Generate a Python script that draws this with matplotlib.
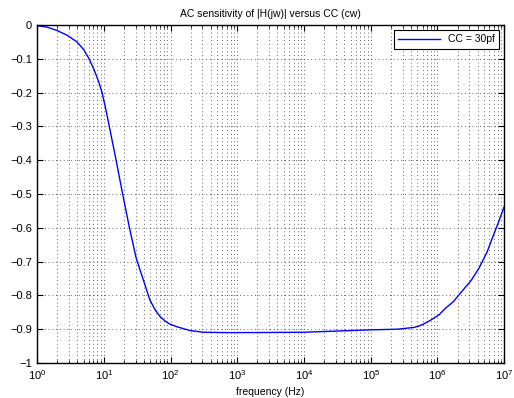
import numpy as np
import matplotlib
matplotlib.use("Agg")
import matplotlib.pyplot as plt

plt.rcParams['font.family'] = ['Liberation Sans', 'DejaVu Sans']

# curve: log10(frequency) and sensitivity
log_freq = [0.0, 0.15, 0.3, 0.45, 0.6, 0.7, 0.775, 0.85, 0.925, 0.975,
            1.025, 1.075, 1.18, 1.28, 1.385, 1.48, 1.54, 1.594, 1.69, 1.77,
            1.845, 1.92, 1.99, 2.1, 2.29, 2.49, 2.8, 3.24, 4.0, 5.0, 5.4,
            5.64, 5.72, 5.79, 5.9, 6.02, 6.12, 6.24, 6.34, 6.5, 6.62, 6.74,
            6.84, 6.93, 7.0]
sens = [-0.002, -0.006, -0.016, -0.03, -0.05, -0.073, -0.098, -0.13, -0.168,
        -0.2, -0.244, -0.292, -0.395, -0.497, -0.60, -0.685, -0.723, -0.755,
        -0.813, -0.843, -0.863, -0.876, -0.885, -0.893, -0.904, -0.909,
        -0.91, -0.91, -0.909, -0.902, -0.9, -0.895, -0.891, -0.885, -0.873,
        -0.858, -0.838, -0.818, -0.794, -0.757, -0.72, -0.673, -0.621,
        -0.575, -0.537]
freq = [10 ** v for v in log_freq]

fig = plt.figure(figsize=(5.14, 3.98), dpi=100)
ax = fig.add_axes([0.072, 0.088, 0.909, 0.849])
ax.semilogx(freq, sens, color='blue', lw=1.0, label='CC = 30pf')

ax.set_xlim(1, 1e7)
ax.set_ylim(-1, 0)
ax.set_yticks(np.arange(-1, 0.01, 0.1))
ax.set_yticklabels(['\u22121', '\u22120.9', '\u22120.8', '\u22120.7', '\u22120.6', '\u22120.5',
                    '\u22120.4', '\u22120.3', '\u22120.2', '\u22120.1', '0'])
grid_style = dict(ls=(0, (1, 3.5)), color='#333333', lw=0.6)
ax.grid(True, which='major', **grid_style)
ax.grid(True, which='minor', axis='x', **grid_style)
ax.tick_params(which='both', direction='in', top=True, right=True, labelsize=8)
ax.tick_params(which='major', length=4)
ax.tick_params(which='minor', length=2)
for s in ax.spines.values():
    s.set_linewidth(1.0)

ax.set_title('AC sensitivity of |H(jw)| versus CC (cw)', fontsize=7.5)
ax.set_xlabel('frequency (Hz)', fontsize=7.5)
leg = ax.legend(loc='upper right', fontsize=7.5, fancybox=False, framealpha=1,
                edgecolor='black', handlelength=4)
leg.get_frame().set_linewidth(0.8)

fig.savefig('out.png', dpi=100)
